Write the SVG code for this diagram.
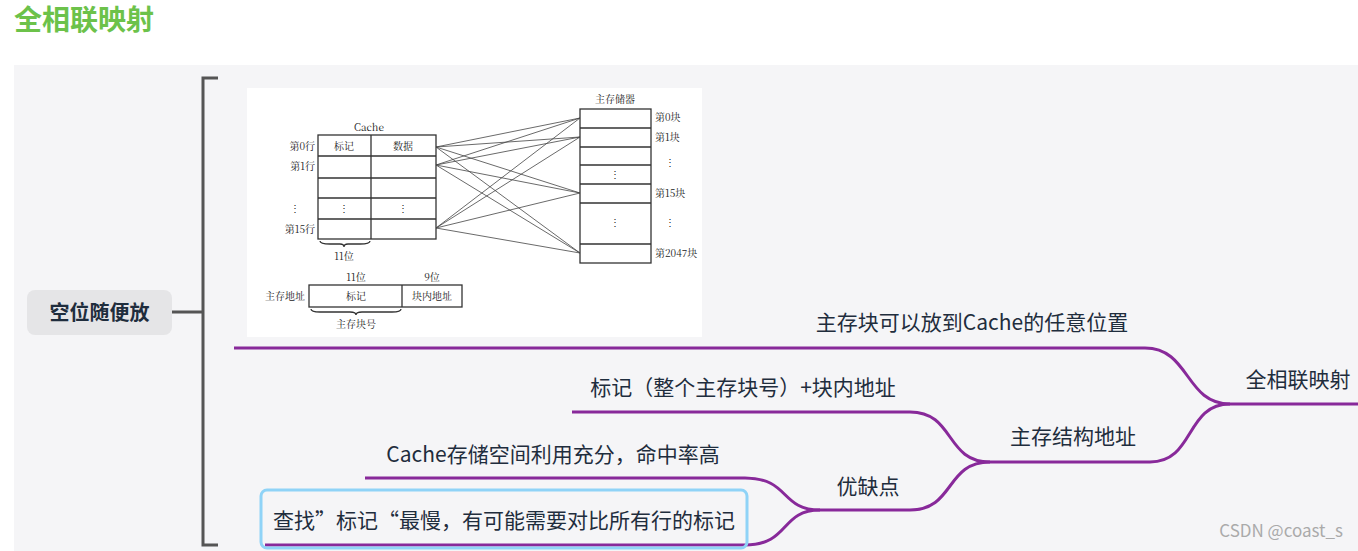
<svg xmlns="http://www.w3.org/2000/svg" width="1358" height="551" viewBox="0 0 1358 551">
<style>
text{font-family:"Noto Sans CJK SC","Noto Sans",sans-serif;fill:#1f2d3d}
.t{font-size:21px}
.s{font-family:"Noto Serif CJK SC","Liberation Serif","Noto Sans CJK SC",serif;font-size:10px;fill:#222}
.c{fill:none;stroke:#88299a;stroke-width:3}
.g{fill:none;stroke:#333;stroke-width:1.3}
.x{stroke:#444;stroke-width:0.8}
</style>
<rect width="1358" height="551" fill="#fff"/>
<text x="14" y="30" style="font-size:28px;font-weight:bold;fill:#6cc24a">全相联映射</text>
<rect x="14" y="65" width="1344" height="486" fill="#f5f5f7"/>

<g id="connectors">
<path d="M172 312H203M218 78H203V545H218" fill="none" stroke="#555" stroke-width="3"/>
<path class="c" d="M1358 404H1230C1185 404 1190 348 1145 348H234"/>
<path class="c" d="M1230 404C1185 404 1195 462 1150 462H990"/>
<path class="c" d="M990 462C945 462 955 412 910 412H572"/>
<path class="c" d="M990 462C945 462 955 510 910 510H820"/>
<path class="c" d="M820 510C780 510 790 478 745 478H365"/>
<path class="c" d="M820 510C780 510 790 545 745 545H265"/>
</g>

<g id="root"><rect x="27" y="290" width="145" height="45" rx="8" fill="#e5e5e7"/>
<text x="99.5" y="320" text-anchor="middle" style="font-size:20px;font-weight:bold">空位随便放</text></g>

<g id="image">
<rect x="247" y="88" width="455" height="249" fill="#fff"/>
<text class="s" x="369" y="131" text-anchor="middle">Cache</text>
<rect class="g" x="318" y="135" width="118" height="104"/>
<path class="g" d="M371 135V239M318 156H436M318 178H436M318 198H436M318 219H436"/>
<text class="s" x="344" y="150" text-anchor="middle">标记</text>
<text class="s" x="403" y="150" text-anchor="middle">数据</text>
<text class="s" x="344" y="212" text-anchor="middle">⋮</text>
<text class="s" x="403" y="212" text-anchor="middle">⋮</text>
<text class="s" x="315" y="150" text-anchor="end">第0行</text>
<text class="s" x="315" y="170" text-anchor="end">第1行</text>
<text class="s" x="300" y="212" text-anchor="end">⋮</text>
<text class="s" x="315" y="233" text-anchor="end">第15行</text>
<path class="g" stroke-width="0.8" d="M320 241Q320 244 330 244H340Q344 244 344 247Q344 244 348 244H360Q370 244 370 241"/>
<text class="s" x="344" y="260" text-anchor="middle">11位</text>
<text class="s" x="615" y="103" text-anchor="middle">主存储器</text>
<rect class="g" x="580" y="109" width="71" height="154"/>
<path class="g" d="M580 128H651M580 147H651M580 165H651M580 184H651M580 203H651M580 244H651"/>
<text class="s" x="615" y="178" text-anchor="middle">⋮</text>
<text class="s" x="615" y="226" text-anchor="middle">⋮</text>
<text class="s" x="655" y="121">第0块</text>
<text class="s" x="655" y="141">第1块</text>
<text class="s" x="670" y="166" text-anchor="middle">⋮</text>
<text class="s" x="655" y="197">第15块</text>
<text class="s" x="670" y="226" text-anchor="middle">⋮</text>
<text class="s" x="655" y="257">第2047块</text>
<g class="x">
<line x1="436" y1="147" x2="580" y2="118"/><line x1="436" y1="147" x2="580" y2="137"/><line x1="436" y1="147" x2="580" y2="193"/><line x1="436" y1="147" x2="580" y2="253"/>
<line x1="436" y1="165" x2="580" y2="118"/><line x1="436" y1="165" x2="580" y2="137"/><line x1="436" y1="165" x2="580" y2="193"/><line x1="436" y1="165" x2="580" y2="253"/>
<line x1="436" y1="228" x2="580" y2="118"/><line x1="436" y1="228" x2="580" y2="137"/><line x1="436" y1="228" x2="580" y2="193"/><line x1="436" y1="228" x2="580" y2="253"/>
</g>
<text class="s" x="356" y="281" text-anchor="middle">11位</text>
<text class="s" x="432" y="281" text-anchor="middle">9位</text>
<rect class="g" x="309" y="285" width="153" height="22"/>
<path class="g" d="M402 285V307"/>
<text class="s" x="305" y="300" text-anchor="end">主存地址</text>
<text class="s" x="356" y="300" text-anchor="middle">标记</text>
<text class="s" x="432" y="300" text-anchor="middle">块内地址</text>
<path class="g" stroke-width="0.8" d="M311 309Q311 312 320 312H350Q356 312 356 315Q356 312 362 312H392Q401 312 401 309"/>
<text class="s" x="356" y="328" text-anchor="middle">主存块号</text>
</g>

<g id="n1"><text class="t" x="1298" y="387" text-anchor="middle">全相联映射</text></g>
<g id="n2"><text class="t" x="972" y="330" text-anchor="middle">主存块可以放到Cache的任意位置</text></g>
<g id="n3"><text class="t" x="1073" y="444" text-anchor="middle">主存结构地址</text></g>
<g id="n4"><text class="t" x="743" y="395" text-anchor="middle">标记（整个主存块号）+块内地址</text></g>
<g id="n5"><text class="t" x="868" y="494" text-anchor="middle">优缺点</text></g>
<g id="n6"><text class="t" x="553" y="462" text-anchor="middle">Cache存储空间利用充分，命中率高</text></g>
<g id="n7"><rect x="261" y="490" width="486" height="58" rx="6" fill="none" stroke="#8fd3f7" stroke-width="3"/>
<text class="t" x="504" y="528" text-anchor="middle">查找”标记“最慢，有可能需要对比所有行的标记</text></g>
<text x="1343" y="537" text-anchor="end" style="font-size:17px;fill:#aaa">CSDN @coast_s</text>
</svg>
